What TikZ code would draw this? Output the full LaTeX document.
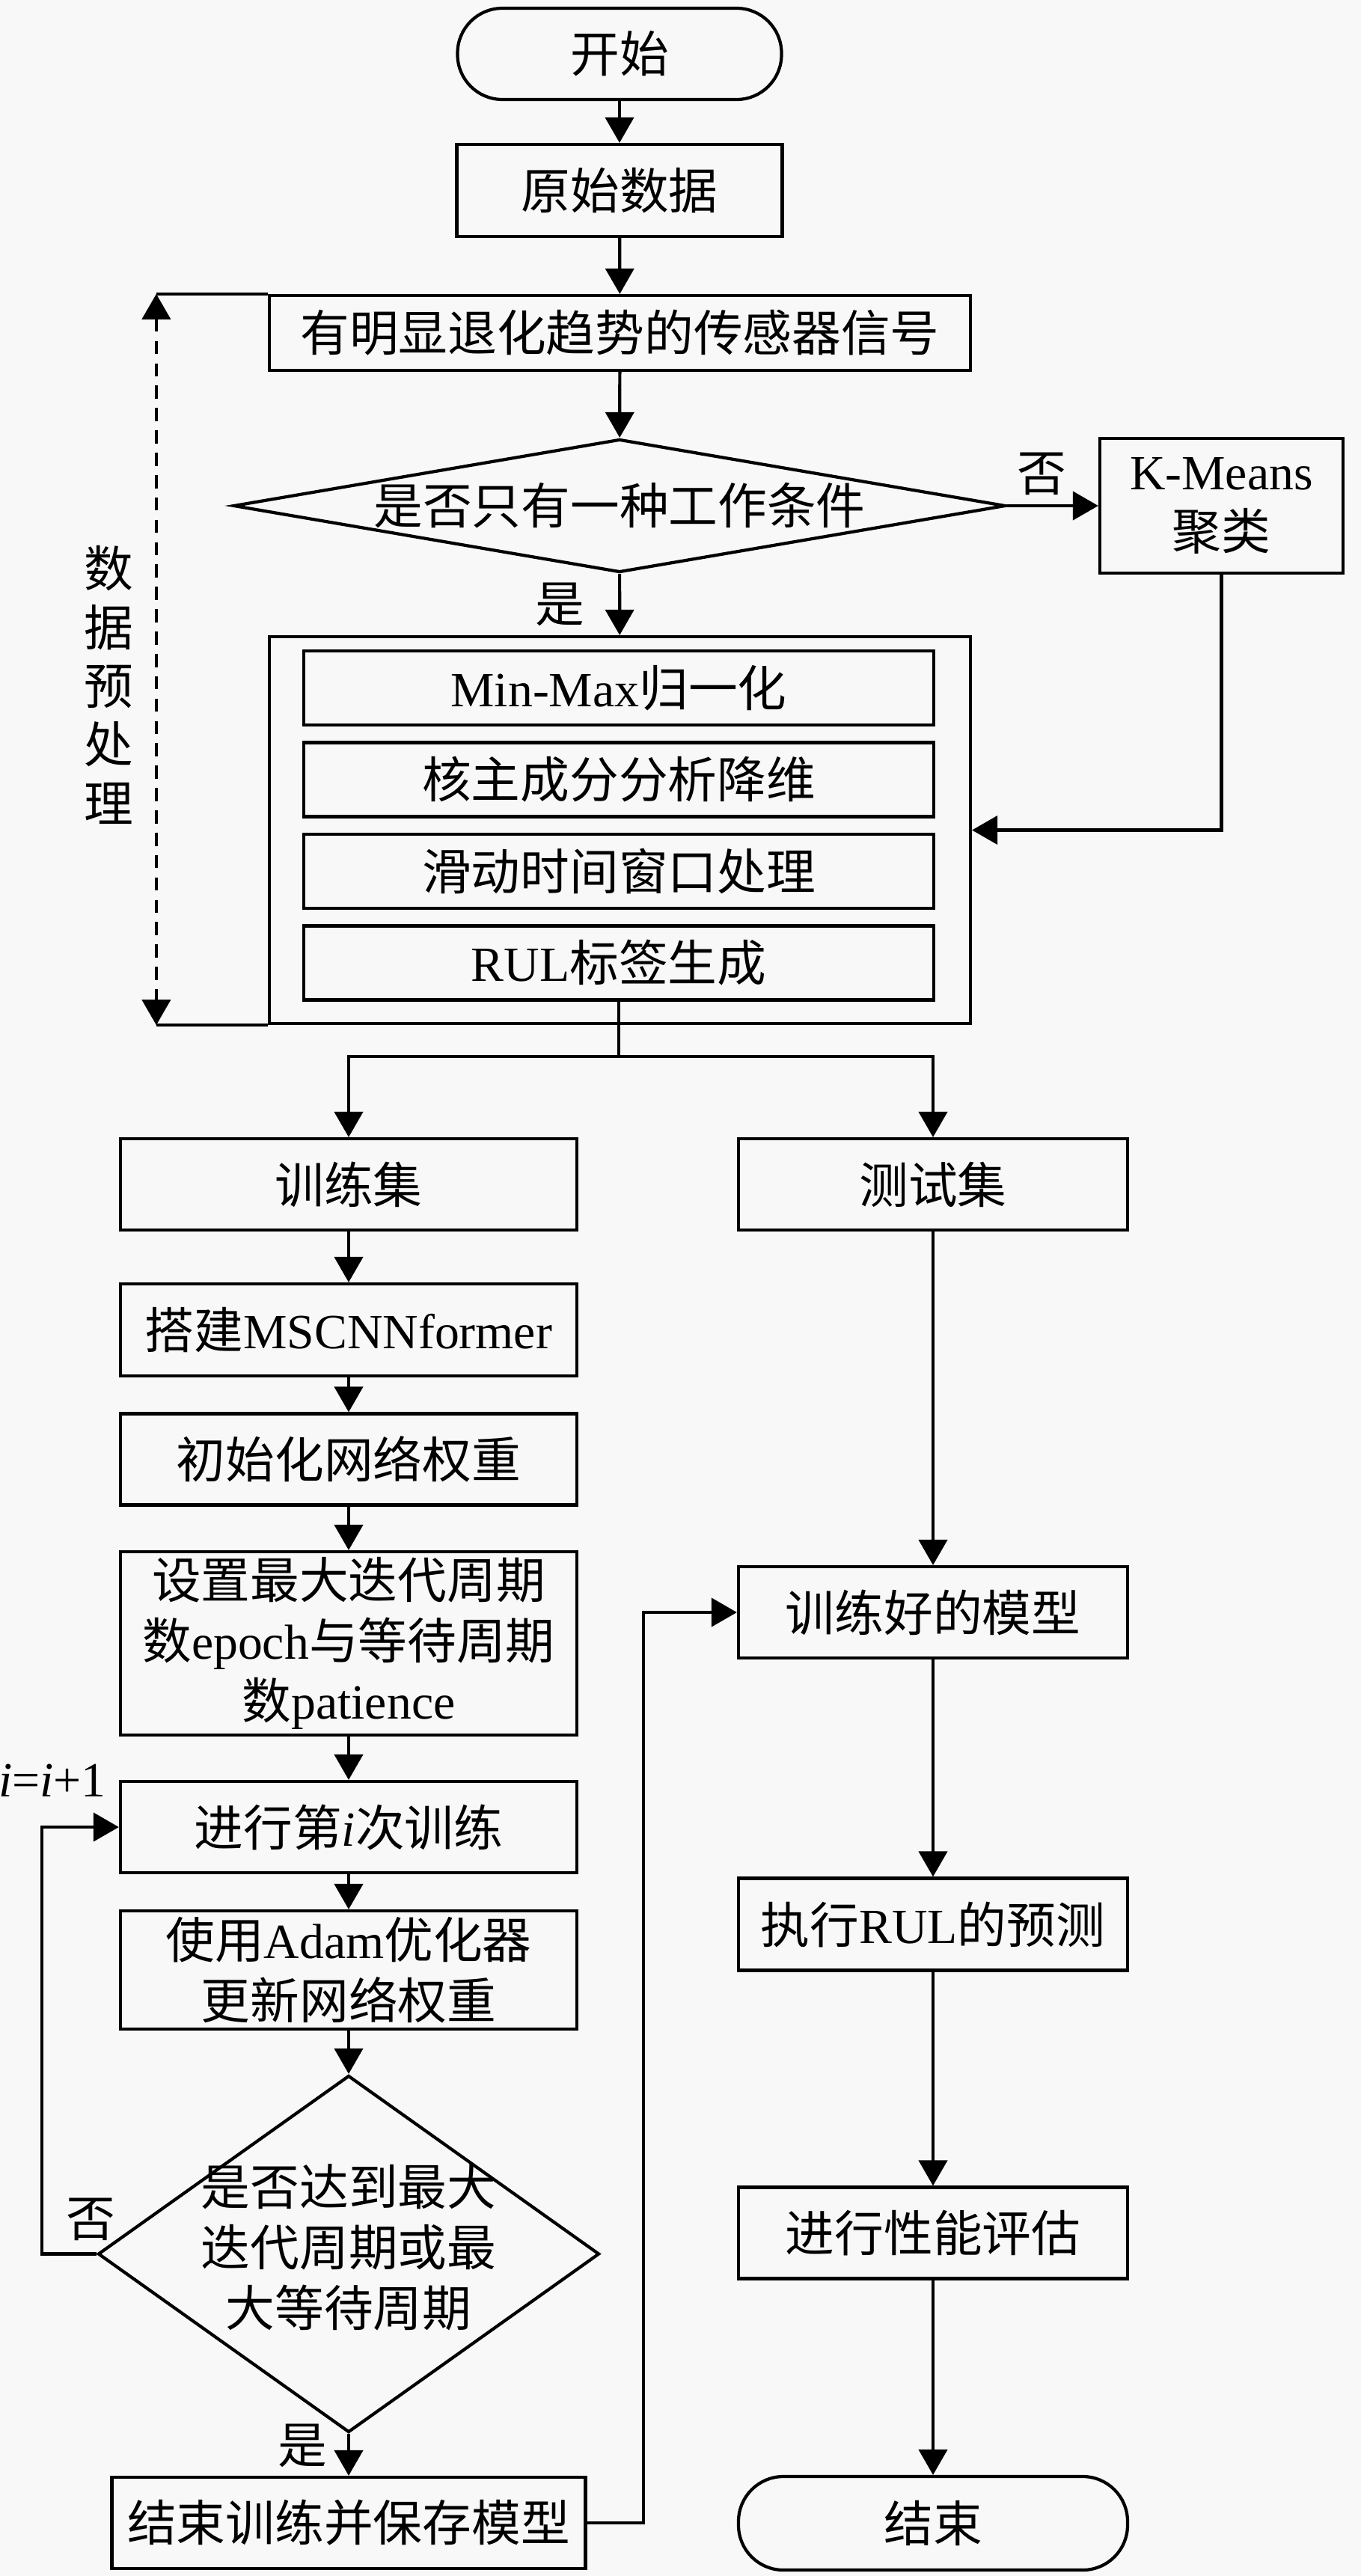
\documentclass[tikz,border=0pt]{standalone}
\usepackage{fontspec}
\setmainfont{Noto Sans CJK SC}
\newfontfamily\tnr{Liberation Serif}
\usepackage{tikz}
\usetikzlibrary{arrows.meta,shapes.geometric}
\definecolor{paper}{RGB}{248,248,248}
\newcommand{\zw}[1]{\makebox[0pt]{#1}}
\tikzset{%
  >={Triangle[width=3.8mm,length=3.4mm]},
  % Specifications for style of nodes:
        base/.style = {rectangle, draw=black, line width=1.2pt,
                       text centered, inner sep=2pt},
   startstop/.style = {base, rounded corners=0.6cm, minimum width=5.2cm,
                       minimum height=1.22cm},
     process/.style = {base, minimum width=6.1cm, minimum height=1.22cm},
    procwide/.style = {base, minimum width=8.42cm, minimum height=0.99cm},
    decision/.style = {diamond, aspect=1, draw=black, line width=1.2pt,
                       inner sep=0pt},
}

\begin{document}
\begin{tikzpicture}[line width=1.2pt, node distance=1.225cm,
    font=\fontsize{18.7}{23}\selectfont]
  \fill[paper] (0,0) rectangle (18.19,-34.43);
  \useasboundingbox (0,0) rectangle (18.19,-34.43);
  % Specification of nodes: preprocessing part
  \node (start)   [startstop, minimum width=4.33cm] at (8.28,-0.72) {开始};
  \node (raw)     [base, minimum width=4.35cm, minimum height=1.23cm]
                  at (8.28,-2.545) {原始数据};
  \node (signal)  [base, minimum width=9.37cm, minimum height=1cm]
                  at (8.285,-4.45) {有明显退化趋势的传感器信号};
  \node (cond)    [decision, minimum width=10.32cm, minimum height=1.78cm]
                  at (8.28,-6.76) {\zw{是否只有一种工作条件}};
  \node (kmeans)  [base, minimum width=3.25cm, minimum height=1.8cm,
                   align=center] at (16.325,-6.76) {{\tnr K-Means}\\聚类};
  \node (prep)    [base, minimum width=9.37cm, minimum height=5.17cm]
                  at (8.285,-11.095) {};
  \node (minmax)  [procwide] at (8.27,-9.195) {{\tnr Min-Max}归一化};
  \node (kpca)    [procwide, below of=minmax] {核主成分分析降维};
  \node (window)  [procwide, below of=kpca]   {滑动时间窗口处理};
  \node (rul)     [procwide, below of=window] {{\tnr RUL}标签生成};
  \node (preptxt) [align=center, font=\fontsize{18.7}{22.3}\selectfont]
                  at (1.45,-9.155) {数\\据\\预\\处\\理};

  % training branch
  \node (train)   [process] at (4.66,-15.83) {训练集};
  \node (build)   [process, minimum height=1.23cm] at (4.66,-17.775)
                  {搭建{\tnr MSCNNformer}};
  \node (init)    [process] at (4.66,-19.505) {初始化网络权重};
  \node (setup)   [process, minimum height=2.45cm, align=center]
                  at (4.66,-21.965)
                  {设置最大迭代周期\\数{\tnr epoch}与等待周期\\数{\tnr patience}};
  \node (run)     [process] at (4.66,-24.42) {进行第{\tnr\itshape i}次训练};
  \node (adam)    [process, minimum height=1.58cm, align=center]
                  at (4.66,-26.33) {使用{\tnr Adam}优化器\\更新网络权重};
  \node (stopdec) [decision, minimum width=6.7cm, minimum height=4.77cm]
                  at (4.66,-30.125)
                  {\zw{\begin{tabular}{@{}c@{}}是否达到最大\\迭代周期或最\\大等待周期\end{tabular}}};
  \node (save)    [process, minimum width=6.33cm] at (4.66,-33.72)
                  {结束训练并保存模型};
  \node (incr)    at (0.70,-23.80) {{\tnr\textit{i}=\textit{i}+1}};

  % test branch
  \node (test)    [process, minimum width=5.2cm] at (12.47,-15.83) {测试集};
  \node (trained) [process, minimum width=5.2cm] at (12.47,-21.55)
                  {训练好的模型};
  \node (predict) [process, minimum width=5.2cm, minimum height=1.23cm]
                  at (12.47,-25.72) {执行{\tnr RUL}的预测};
  \node (assess)  [process, minimum width=5.2cm] at (12.47,-29.845)
                  {进行性能评估};
  \node (finish)  [startstop, minimum height=1.25cm] at (12.47,-33.725)
                  {结束};

  \coordinate (fbtop) at ([xshift=-1.49cm]signal.north west);
  \coordinate (fbbot) at ([xshift=-1.49cm]prep.south west);
  \coordinate (split) at (8.27,-14.12);

  % Specification of lines between nodes
  \draw[->]      (start) -- (raw);
  \draw[->]        (raw) -- (signal);
  \draw[->]     (signal) -- (cond);
  \draw[->]       (cond) -- node[above, xshift=-0.15cm] {否} (kmeans);
  \draw[->]       (cond) -- node[left=0.33cm] {是} (prep);
  \draw[->]     (kmeans) |- (prep);
  \draw (signal.north west) -- (fbtop);
  \draw   (prep.south west) -- (fbbot);
  \draw[<->, dash pattern=on 5pt off 3.5pt] (fbtop) -- (fbbot);
  \draw          (rul) -- (split);
  \draw[->]    (split) -| (train);
  \draw[->]    (split) -| (test);

  \draw[->]    (train) -- (build);
  \draw[->]    (build) -- (init);
  \draw[->]     (init) -- (setup);
  \draw[->]    (setup) -- (run);
  \draw[->]      (run) -- (adam);
  \draw[->]     (adam) -- (stopdec);
  \draw[->]  (stopdec) -- node[left=0.15cm, yshift=0.12cm] {是} (save);
  \draw[->] (stopdec.west) -- node[above=1pt, pos=0.1] {否}
                              ++(-0.73,0) |- (run);
  \draw[->] (save.east) -- ++(0.755,0) |- (trained);

  \draw[->]     (test) -- (trained);
  \draw[->]  (trained) -- (predict);
  \draw[->]  (predict) -- (assess);
  \draw[->]   (assess) -- (finish);
\end{tikzpicture}
\end{document}
